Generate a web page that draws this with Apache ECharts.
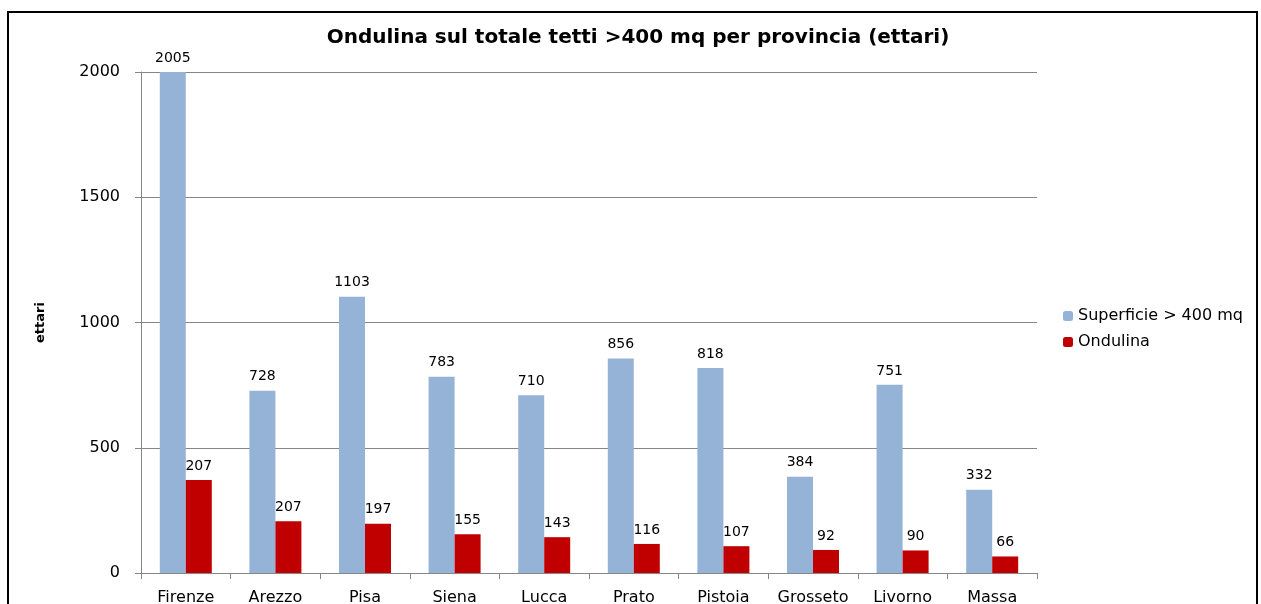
<!DOCTYPE html>
<html><head><meta charset="utf-8">
<script src="https://cdn.jsdelivr.net/npm/echarts@6/dist/echarts.min.js"></script>
<style>html,body{margin:0;padding:0;background:#fff}#c{width:1261px;height:604px}</style>
</head><body><div id="c"></div>
<script>
const categories = ['Firenze','Arezzo','Pisa','Siena','Lucca','Prato','Pistoia','Grosseto','Livorno','Massa'];
const superficie = [2005, 728, 1103, 783, 710, 856, 818, 384, 751, 332];
const ondulina = [371, 207, 197, 155, 143, 116, 107, 92, 90, 66];
const ondulinaLabels = ['207','207','197','155','143','116','107','92','90','66'];
const yTicks = [0, 500, 1000, 1500, 2000];

const font = '"DejaVu Sans", sans-serif';
const chart = echarts.init(document.getElementById('c'));
chart.setOption({
  animation: false,
  title: {
    text: 'Ondulina sul totale tetti >400 mq per provincia (ettari)',
    left: 633, top: 23, textAlign: 'center',
    textStyle: {fontFamily: font, fontSize: 20, fontWeight: 'bold', color: '#000'}
  },
  graphic: [{type: 'rect', shape: {x: 8, y: 12, width: 1249, height: 620},
    style: {fill: 'none', stroke: '#000', lineWidth: 2}, silent: true}],
  legend: {
    orient: 'vertical', left: 1058, top: 303, itemWidth: 10, itemHeight: 10, itemGap: 10,
    textStyle: {fontFamily: font, fontSize: 16, color: '#000'},
    data: ['Superficie > 400 mq', 'Ondulina']
  },
  grid: {left: 141, right: 224, top: 72, bottom: 31, containLabel: false, outerBoundsMode: 'none'},
  xAxis: {
    type: 'category', data: categories,
    axisLine: {lineStyle: {color: '#868686'}},
    axisTick: {show: true, length: 6, interval: 0, lineStyle: {color: '#868686'}},
    axisLabel: {fontFamily: font, fontSize: 16, color: '#000', margin: 17, interval: 0}
  },
  yAxis: {
    type: 'value', min: 0, max: 2000, interval: 500,
    name: 'ettari', nameLocation: 'middle', nameGap: 94, nameRotate: 90,
    nameTextStyle: {fontFamily: font, fontSize: 13, fontWeight: 'bold', color: '#000'},
    axisLine: {show: true, lineStyle: {color: '#868686'}},
    axisTick: {show: true, length: 6, lineStyle: {color: '#868686'}},
    axisLabel: {fontFamily: font, fontSize: 16, color: '#000', margin: 21,
      formatter: v => yTicks.includes(v) ? String(v) : ''},
    splitLine: {lineStyle: {color: '#868686'}}
  },
  series: [
    {name: 'Superficie > 400 mq', type: 'bar', data: superficie, barWidth: 26, barGap: '0%',
     itemStyle: {color: '#95b3d7'},
     label: {show: true, position: 'top', fontFamily: font, fontSize: 14, color: '#000', distance: 7}},
    {name: 'Ondulina', type: 'bar', data: ondulina, barWidth: 26,
     itemStyle: {color: '#c00000'},
     label: {show: true, position: 'top', fontFamily: font, fontSize: 14, color: '#000', distance: 7,
       formatter: p => ondulinaLabels[p.dataIndex]}}
  ]
});
</script></body></html>
